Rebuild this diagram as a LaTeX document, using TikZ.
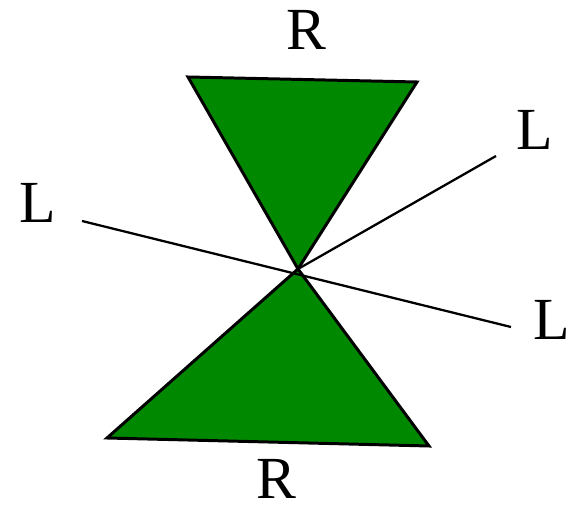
\documentclass[tikz,border=0pt]{standalone}
\usepackage{fontspec}
\setmainfont{Liberation Serif}
\usetikzlibrary{positioning}
\definecolor{ConeGreen}{RGB}{0,136,0}
\begin{document}
\begin{tikzpicture}[x=0.02cm,y=-0.02cm,
    cone/.style={fill=ConeGreen,draw=black,line width=1.7pt,line join=miter},
    ray/.style={draw=black,line width=1.3pt},
    lab/.style={font=\fontsize{34}{40}\selectfont,inner sep=0pt}]
      \useasboundingbox (0,0) rectangle (569,506);
      % apex and corners of the two cones
      \coordinate (o) at (298,269);
      \coordinate (ul) at (188,77);
      \coordinate (ur) at (417,82);
      \coordinate (dl) at (107,438);
      \coordinate (dr) at (429,446);
      \filldraw[cone] (ul)--(ur)--(o)--cycle;
      \filldraw[cone] (o)--(dr)--(dl)--cycle;
      % the lines through the apex
      \coordinate (lw) at (82,221);
      \coordinate (le) at (511,327);
      \coordinate (lne) at (496,156);
      \draw[ray] (lw)--(le);
      \draw[ray] (o)--(lne);
      % labels
      \node[lab] (rtop) at (306,30) {R};
      \node[lab] (rbot) at (276,479) {R};
      \node[lab] (lleft) at (38,203) {L};
      \node[lab] (lne-l) at (535,130) {L};
      \node[lab] (lse-l) at (552,320) {L};
    \end{tikzpicture}
\end{document}
